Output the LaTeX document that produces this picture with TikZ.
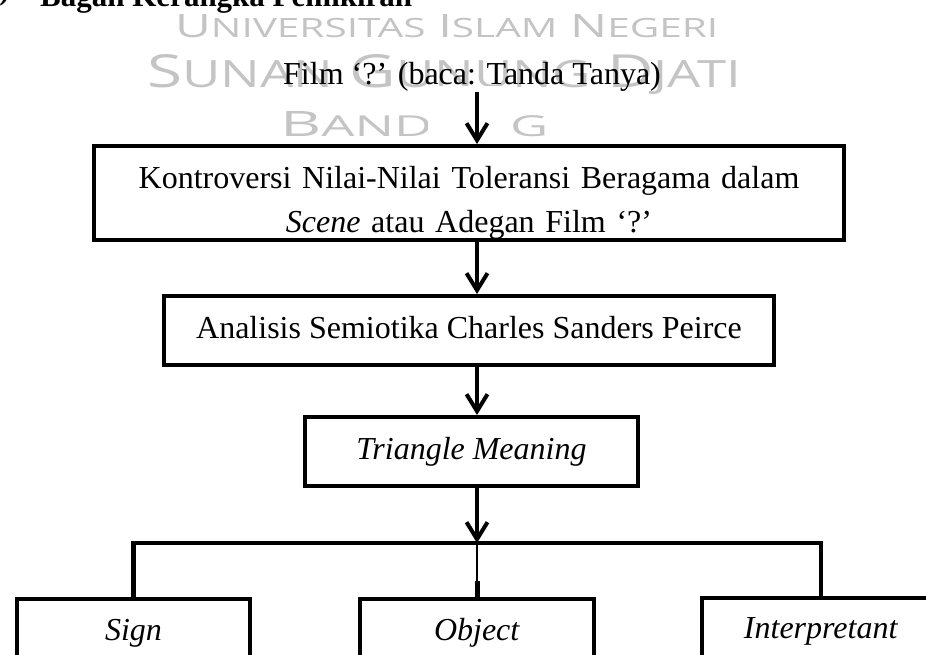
\documentclass[tikz,border=0pt]{standalone}
\usepackage{graphicx}
\usepackage{fontspec}
\setmainfont{Liberation Serif}
\newfontfamily\wmfont{Open Sans}
\usetikzlibrary{arrows.meta,calc}
\definecolor{wmgray}{RGB}{196,196,196}
\newcommand\wmsc[2]{{\fontsize{40}{40}\selectfont #1}{\fontsize{33}{33}\selectfont #2}}
\begin{document}
\begin{tikzpicture}[x=1pt,y=-1pt,
  txt/.style={inner sep=0pt, font=\fontsize{32}{37}\selectfont},
  wm/.style={inner sep=0pt, text=wmgray, font=\wmfont\fontsize{40}{40}\selectfont, anchor=base west},
  boxbase/.style={draw, line width=4pt, rectangle, inner sep=0pt, font=\fontsize{32}{44}\selectfont},
  onebox/.style={boxbase, text height=22pt, text depth=7pt},
  arr/.style={line width=4pt, -{Straight Barb[length=17pt, width=21pt, line width=4pt]}},
  conn/.style={line width=4.5pt, line join=miter}
]
\useasboundingbox (0,0) rectangle (926,655);
\clip (0,0) rectangle (926,655);

% watermark
\node[wm] (wm1) at (175,38) {\resizebox{543pt}{23pt}{\wmsc{U}{NIVERSITAS} \wmsc{I}{SLAM} \wmsc{N}{EGERI}}};
\node[wm] (wm2) at (147,88) {\resizebox{594pt}{33pt}{\wmsc{S}{UNAN} \wmsc{G}{UNUNG} \wmsc{D}{JATI}}};
\node[wm] (wm3) at (280,137) {\resizebox{268pt}{25pt}{\wmsc{B}{ANDUNG}}};
\fill[white] (428,86) rectangle (506,143);

% heading (cut at the top edge)
\node[inner sep=0pt, anchor=base east, font=\bfseries\fontsize{31}{31}\selectfont] (num) at (10,0) {)};
\node[inner sep=0pt, anchor=base west, font=\bfseries\fontsize{31}{31}\selectfont] (title) at (40,7) {Bagan Kerangka Pemikiran};

% top text
\node[txt, anchor=base west] (film) at (283,85) {Film ‘?’ (baca: Tanda Tanya)};

% boxes
\node[boxbase, minimum width=750pt, minimum height=94pt, text width=700pt, align=center] (b1) at (469,193)
  {\rule{0pt}{42pt}Kontroversi Nilai-Nilai Toleransi Beragama dalam\\ \textit{Scene} atau Adegan Film ‘?’};
\node[onebox, minimum width=610pt, minimum height=69pt] (b2) at (469,330.5) {Analisis Semiotika Charles Sanders Peirce};
\node[onebox, minimum width=333pt, minimum height=69pt] (b3) at (471.5,451.5) {\textit{Triangle Meaning}};
\node[onebox, minimum width=233pt, minimum height=67pt] (sign) at (133.5,632.5) {\textit{Sign}};
\node[onebox, minimum width=234pt, minimum height=67pt] (object) at (477,632.5) {\textit{Object}};
\node[onebox, minimum width=238pt, minimum height=67pt] (interp) at (821,631) {\textit{Interpretant}};

% connectors
\coordinate (axis) at (477,0);
\coordinate (junc) at (477,543);
\draw[arr] (film.south -| axis) -- (b1.north -| axis);
\draw[arr] (b1.south -| axis) -- (b2.north -| axis);
\draw[arr] (b2.south -| axis) -- (b3.north -| axis);
\draw[arr] (b3.south -| axis) -- (junc);
\draw[conn] (sign.north) |- (junc) -| (interp.north);
\draw[line width=1.6pt] (junc) -- (object.north);
\draw[line width=5pt] ($(object.north)+(0,-16)$) -- (object.north);
\end{tikzpicture}
\end{document}
